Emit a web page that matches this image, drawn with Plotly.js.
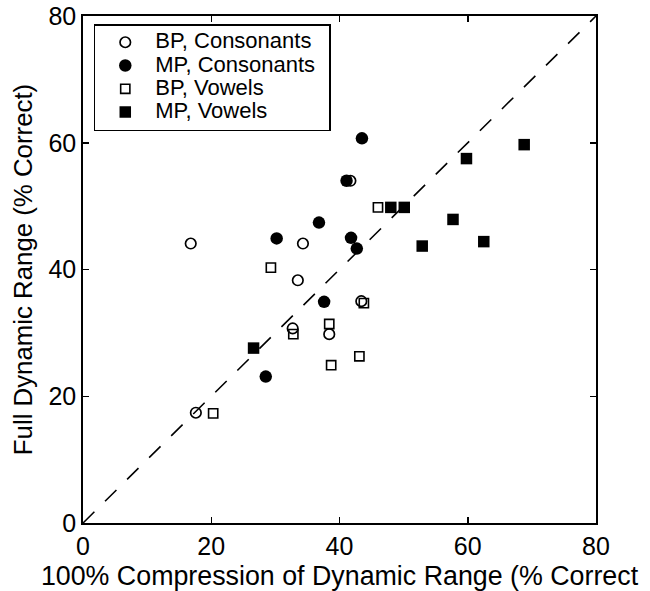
<!DOCTYPE html>
<html>
<head>
<meta charset="utf-8">
<script src="https://cdn.plot.ly/plotly-3.0.1.min.js"></script>
<style>
  html, body { margin: 0; padding: 0; background: #fff; }
  #chart { width: 650px; height: 591px; }
</style>
</head>
<body>
<div id="chart"></div>
<script>
// Percent correct with 100% compression of dynamic range (x) vs full dynamic range (y)
const bpConsX = [16.8, 34.3, 33.5, 41.7, 43.4, 32.7, 38.4, 17.6];
const bpConsY = [44.1, 44.1, 38.3, 54.0, 35.0, 30.7, 29.8, 17.4];

const mpConsX = [43.5, 41.1, 36.8, 30.2, 41.8, 42.7, 37.6, 28.5];
const mpConsY = [60.7, 54.0, 47.4, 44.9, 45.0, 43.3, 34.9, 23.1];

const bpVowX = [46.0, 29.3, 43.8, 32.8, 38.4, 38.7, 43.1, 20.3];
const bpVowY = [49.8, 40.3, 34.7, 29.8, 31.4, 24.9, 26.3, 17.3];

const mpVowX = [48.0, 50.1, 59.8, 68.8, 57.7, 52.9, 62.5, 26.6];
const mpVowY = [49.8, 49.8, 57.5, 59.7, 47.9, 43.7, 44.4, 27.6];

// Line of equal performance
const diagonal = [0, 80];

const tickVals = [0, 20, 40, 60, 80];
const tickText = ['0', '20', '40', '60', '80'];

const seriesNames = ['BP, Consonants', 'MP, Consonants', 'BP, Vowels', 'MP, Vowels'];

const FONT = 'Liberation Sans, Arial, Helvetica, sans-serif';
// Legend rows keep a compact line height while the label text itself is larger
const label = s => '<span style="font-size:22px">' + s + '</span>&nbsp;&nbsp;';

const traces = [
  {
    x: diagonal, y: diagonal, mode: 'lines', showlegend: false, hoverinfo: 'skip',
    line: { color: '#000', width: 1.6, dash: '16px,15px' }
  },
  {
    x: bpConsX, y: bpConsY, mode: 'markers', name: label(seriesNames[0]),
    marker: { symbol: 'circle-open', size: 10.5, color: '#000', line: { width: 1.7, color: '#000' } }
  },
  {
    x: mpConsX, y: mpConsY, mode: 'markers', name: label(seriesNames[1]),
    marker: { symbol: 'circle', size: 12.5, color: '#000' }
  },
  {
    x: bpVowX, y: bpVowY, mode: 'markers', name: label(seriesNames[2]),
    marker: { symbol: 'square-open', size: 9.2, color: '#000', line: { width: 1.6, color: '#000' } }
  },
  {
    x: mpVowX, y: mpVowY, mode: 'markers', name: label(seriesNames[3]),
    marker: { symbol: 'square', size: 11.5, color: '#000' }
  }
];

const axisCommon = {
  range: [0, 80],
  tickvals: tickVals,
  ticktext: tickText,
  ticks: 'inside',
  ticklen: 6,
  tickwidth: 1.5,
  tickcolor: '#000',
  showline: true,
  linecolor: '#000',
  linewidth: 1.8,
  mirror: 'ticks',
  showgrid: false,
  zeroline: false,
  tickfont: { family: FONT, size: 25, color: '#000' }
};

const layout = {
  width: 650,
  height: 591,
  margin: { l: 83, r: 54, t: 16, b: 68 },
  paper_bgcolor: '#fff',
  plot_bgcolor: '#fff',
  font: { family: FONT, color: '#000' },
  showlegend: true,
  legend: {
    x: 0.021, y: 0.984, xanchor: 'left', yanchor: 'top',
    bgcolor: '#fff', bordercolor: '#000', borderwidth: 1.5,
    font: { family: FONT, size: 15.6, color: '#000' },
    itemwidth: 50
  },
  xaxis: Object.assign({}, axisCommon, {
    title: { text: '100% Compression of Dynamic Range (% Correct', font: { family: FONT, size: 26.8, color: '#000' }, standoff: 7 }
  }),
  yaxis: Object.assign({}, axisCommon, {
    title: { text: 'Full Dynamic Range (% Correct)', font: { family: FONT, size: 25.8, color: '#000' }, standoff: 8 }
  })
};

Plotly.newPlot('chart', traces, layout, { displayModeBar: false, staticPlot: true });
</script>
</body>
</html>
